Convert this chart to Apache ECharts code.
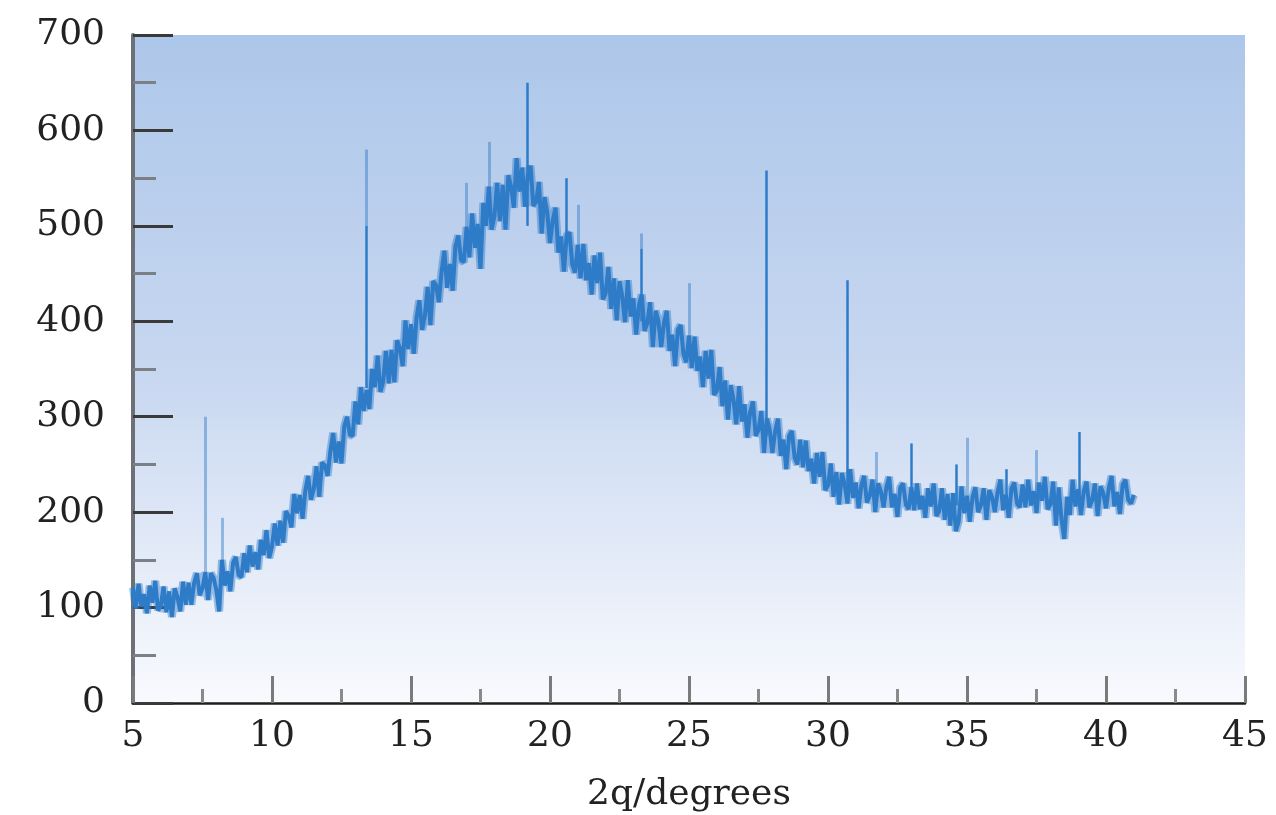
<!DOCTYPE html>
<html>
<head>
<meta charset="utf-8">
<script src="https://cdn.jsdelivr.net/npm/echarts@6/dist/echarts.min.js"></script>
<style>
  html, body { margin: 0; padding: 0; background: #fff; }
  #chart { width: 1276px; height: 815px; }
</style>
</head>
<body>
<div id="chart"></div>
<script>
// scan starts at 5 deg, one reading every 0.1 deg
const scanStart = 5;
const scanStep = 0.1;
const intensity = [
  121, 99, 125, 101, 114, 94, 123, 105, 128, 97,
  102, 122, 95, 117, 90, 120, 111, 96, 127, 103,
  126, 103, 126, 136, 113, 120, 137, 108, 136, 131,
  118, 96, 150, 123, 138, 117, 147, 153, 134, 132,
  157, 137, 165, 143, 158, 140, 171, 155, 181, 152,
  164, 188, 165, 191, 168, 201, 196, 184, 219, 199,
  218, 193, 223, 238, 213, 224, 248, 216, 252, 249,
  238, 264, 283, 252, 274, 251, 290, 300, 281, 280,
  316, 292, 331, 306, 328, 308, 350, 331, 364, 326,
  337, 369, 335, 370, 336, 380, 372, 353, 401, 371,
  397, 366, 404, 422, 391, 406, 436, 396, 442, 438,
  420, 452, 474, 435, 460, 432, 479, 490, 464, 462,
  499, 467, 513, 477, 502, 455, 524, 500, 541, 496,
  510, 545, 505, 543, 496, 553, 541, 519, 571, 536,
  561, 520, 553, 563, 521, 525, 546, 492, 530, 514,
  482, 506, 519, 472, 489, 452, 490, 493, 460, 451,
  480, 445, 481, 443, 461, 428, 469, 440, 472, 423,
  429, 457, 413, 445, 401, 442, 426, 399, 443, 405,
  424, 386, 417, 428, 390, 398, 420, 373, 411, 400,
  373, 398, 411, 369, 386, 353, 391, 396, 366, 357,
  385, 351, 384, 348, 363, 331, 369, 340, 370, 323,
  327, 352, 311, 338, 297, 333, 318, 292, 332, 295,
  313, 278, 305, 316, 280, 286, 306, 262, 298, 287,
  262, 285, 298, 259, 276, 245, 280, 285, 257, 250,
  276, 247, 275, 243, 256, 230, 262, 237, 263, 223,
  228, 251, 216, 242, 208, 241, 229, 209, 245, 215,
  231, 204, 228, 238, 210, 217, 234, 200, 230, 222,
  205, 226, 237, 205, 219, 195, 226, 230, 208, 203,
  226, 202, 230, 203, 217, 194, 225, 206, 230, 196,
  201, 225, 192, 219, 186, 220, 180, 190, 227, 199,
  217, 190, 216, 226, 200, 207, 225, 192, 223, 216,
  200, 221, 234, 202, 218, 194, 225, 231, 209, 205,
  229, 205, 234, 207, 222, 199, 231, 212, 237, 203,
  208, 232, 186, 226, 192, 172, 216, 197, 234, 206,
  224, 197, 222, 232, 205, 212, 230, 196, 227, 220,
  204, 225, 238, 206, 221, 198, 229, 234, 213, 209,
  218
];

// sharp reflections (dark)
const peakPos  = [13.4, 19.17, 20.6, 23.3, 27.78, 30.7, 33.0, 34.6, 36.4, 39.03];
const peakBase = [330, 500, 480, 400, 280, 225, 213, 207, 213, 215];
const peakTop  = [500, 650, 550, 476, 558, 443, 272, 250, 245, 284];

// faint reflections (lighter trace)
const faintPos  = [7.6, 8.2, 13.4, 17.0, 17.8, 21.0, 23.3, 25.0, 31.75, 35.0, 37.5];
const faintBase = [125, 135, 500, 480, 510, 462, 476, 370, 220, 208, 216];
const faintTop  = [300, 194, 580, 545, 588, 522, 492, 440, 263, 278, 265];

const xTicks = [5, 45];
const yTicks = [0, 700];

const lineColor = '#2e7bc8';
const faintColor = 'rgba(46, 123, 200, 0.45)';
const labelFont = 'DejaVu Serif';

const chart = echarts.init(document.getElementById('chart'));

const curve = intensity.map((v, i) => [+(scanStart + i * scanStep).toFixed(2), v]);

const spikeLines = [];
faintPos.forEach((x, i) => {
  spikeLines.push([
    { coord: [x, faintBase[i]], lineStyle: { color: faintColor, width: 3, type: 'solid' } },
    { coord: [x, faintTop[i]] }
  ]);
});
peakPos.forEach((x, i) => {
  spikeLines.push([
    { coord: [x, peakBase[i]], lineStyle: { color: lineColor, width: 2.5, type: 'solid' } },
    { coord: [x, peakTop[i]] }
  ]);
});

const opts = {
  animation: false,
  grid: {
    left: 133,
    right: 31,
    top: 35,
    bottom: 112,
    outerBoundsMode: 'none',
    containLabel: false,
    show: true,
    borderWidth: 0,
    backgroundColor: new echarts.graphic.LinearGradient(0, 0, 0, 1, [
      { offset: 0, color: '#adc7ea' },
      { offset: 0.5, color: '#c7d7f0' },
      { offset: 1, color: '#f9fafe' }
    ])
  },
  xAxis: {
    type: 'value',
    min: xTicks[0],
    max: xTicks[1],
    interval: 5,
    name: '2q/degrees',
    nameLocation: 'middle',
    nameGap: 74,
    nameTextStyle: { fontFamily: labelFont, fontSize: 36, color: '#222' },
    axisLine: { onZero: false, lineStyle: { color: '#1e1e1e', width: 2.5 } },
    axisTick: { inside: true, length: 27, lineStyle: { color: '#7a7a7a', width: 3 } },
    minorTick: { show: true, splitNumber: 2, length: 14, lineStyle: { color: '#8a8a8a', width: 3 } },
    splitLine: { show: false },
    axisLabel: { fontFamily: labelFont, fontSize: 36, color: '#222', margin: 16 }
  },
  yAxis: {
    type: 'value',
    min: yTicks[0],
    max: yTicks[1],
    interval: 100,
    axisLine: { show: true, lineStyle: { color: '#6e7077', width: 4 } },
    axisTick: { inside: true, length: 40, lineStyle: { color: '#3a3a3a', width: 3 } },
    minorTick: { show: true, splitNumber: 2, length: 23, lineStyle: { color: '#7d7f86', width: 3 } },
    splitLine: { show: false },
    axisLabel: { fontFamily: labelFont, fontSize: 36, color: '#222', margin: 28 }
  },
  series: [
    {
      // light fringe of the trace
      type: 'line',
      data: curve,
      showSymbol: false,
      symbol: 'none',
      silent: true,
      lineStyle: { color: faintColor, width: 8 },
      z: 2
    },
    {
      type: 'line',
      data: curve,
      showSymbol: false,
      symbol: 'none',
      lineStyle: { color: lineColor, width: 4 },
      z: 3,
      markLine: {
        symbol: 'none',
        silent: true,
        animation: false,
        label: { show: false },
        data: spikeLines
      }
    }
  ]
};

chart.setOption(opts);
</script>
</body>
</html>
